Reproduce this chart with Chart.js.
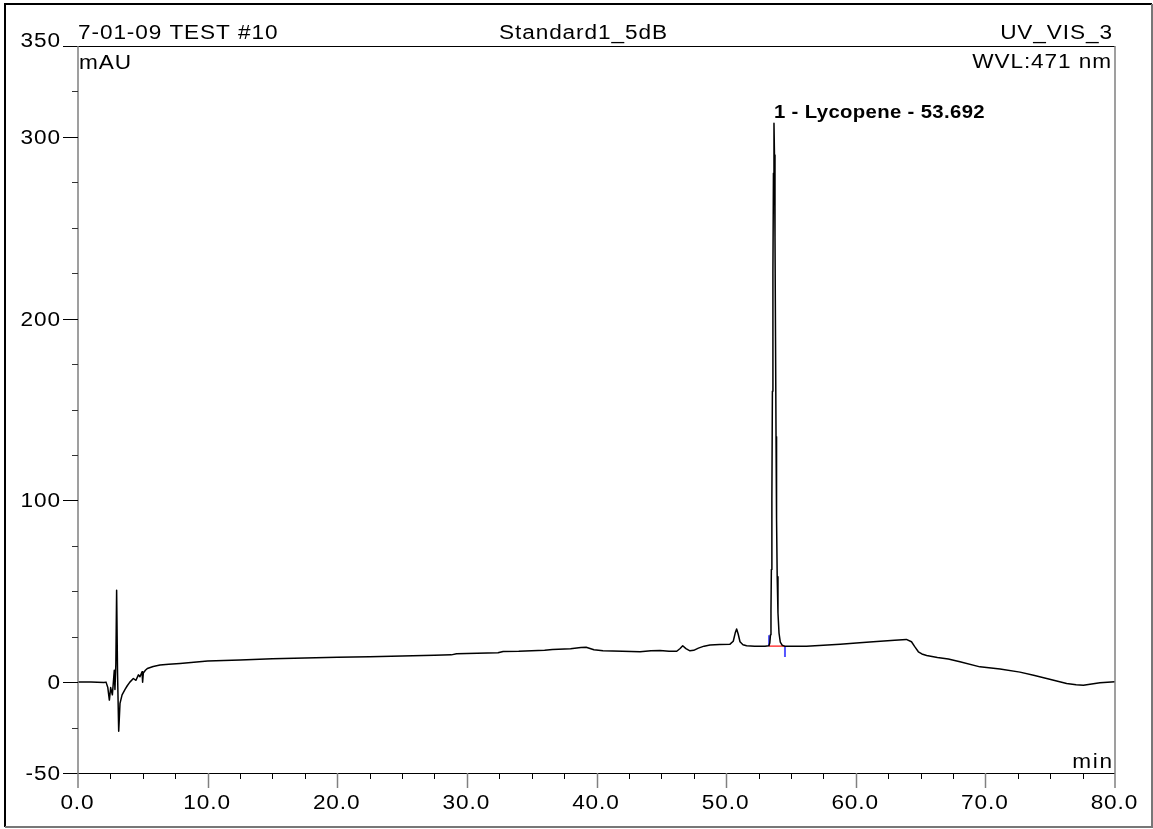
<!DOCTYPE html>
<html lang="en">

<head>
    <meta charset="UTF-8">
    <title>Standard1_5dB</title>
    <script src="https://cdn.jsdelivr.net/npm/chart.js@4.4.9/dist/chart.umd.min.js"></script>
    <style>
        body { margin: 0; background: #fff; }
        canvas { display: block; }
    </style>
</head>

<body>
    <canvas id="chromCanvas" width="1153" height="829"></canvas>
</body>

</html>
<script>
    // retention time (min) and detector signal (mAU)
    var tempos = [
        0, 1.0, 2.0, 2.16, 2.3, 2.42, 2.52, 2.65, 2.75, 2.8, 2.85, 2.92, 2.98, 3.05, 3.14, 3.24, 3.4, 3.63, 3.8, 4.0,
        4.27, 4.47, 4.66, 4.78, 4.94, 4.97, 5.0, 5.04, 5.2, 5.35, 5.8, 6.33, 7.0, 7.87, 10, 12.5, 15, 17.5, 20, 22.5,
        25, 27.5, 28.8, 29.2, 30, 32.4, 32.8, 34, 36, 36.6, 38, 38.8, 39.2, 39.8, 40.5, 42, 43.36, 44.2, 44.9, 45.6,
        46.19, 46.45, 46.65, 46.9, 47.21, 47.5, 47.86, 48.3, 48.76, 49.5, 50.3, 50.55, 50.7, 50.81, 50.93, 51.07, 51.3, 51.58, 52.2, 53.0,
        53.30, 53.37, 53.42, 53.46, 53.49, 53.53, 53.57, 53.61, 53.65, 53.692, 53.73, 53.77, 53.81, 53.85, 53.89, 53.94, 54.00, 54.08, 54.18, 54.32,
        54.5, 56.2, 58.8, 60.3, 61.35, 63.0, 63.9, 64.3, 64.55, 64.83, 65.1, 65.47, 66.3, 67.14, 68.04, 69.58, 71.13, 72.67, 73.8, 74.73,
        76.27, 77.0, 77.56, 78.2, 78.84, 80
    ]
    var sinal = [
        0, 0.1, -0.2, 0, -3, -9.9, -3, -7, 2, 6.5, -4, 10, 50.6, 5, -27, -11.7, -7, -4, -2, 0,
        2, 1, 4, 3, 5.7, 0, 0, 5, 6.5, 7.5, 8.6, 9.4, 9.9, 10.3, 11.6, 12.2, 12.8, 13.3, 13.7, 14.0,
        14.4, 14.8, 15.0, 15.6, 15.8, 16.2, 16.9, 17.0, 17.5, 18.0, 18.3, 19.0, 19.2, 17.8, 17.2, 17.0, 16.7, 17.3, 17.4, 17.0,
        17.0, 18.5, 20, 18.4, 17.2, 17.5, 18.7, 19.8, 20.4, 20.7, 20.9, 22.5, 27, 29.2, 26.5, 22.2, 20.6, 20, 19.8, 19.8,
        20, 21.5, 26, 40, 62, 100, 160, 225, 280, 307.5, 290, 245, 190, 135, 90, 58, 38, 27, 22, 20.3,
        19.8, 19.8, 20.9, 21.6, 22.2, 23.0, 23.5, 22.2, 19.5, 16.7, 15.5, 14.7, 13.6, 12.7, 11.2, 8.4, 7.2, 5.5, 3.6, 2,
        -0.7, -1.5, -1.7, -1.0, -0.4, 0.2
    ]

    // peak integration: start, end and baseline level
    var picoInicio = 53.31
    var picoFim = 54.54
    var picoBase = 19.8
    var picoRotulo = '1 - Lycopene - 53.692'
    var picoTempo = 53.692
    var picoAltura = 307.5

    // axis labels
    var rotulosX = [0, 10, 20, 30, 40, 50, 60, 70, 80]
    var rotulosY = [350, 300, 200, 100, 0, -50]

    var fonte = '"Liberation Sans", Arial, sans-serif'
    var largura = 1.13   // the report font is drawn a bit wide

    function texto(ctx, str, x, y, alinhar, font, espaco) {
        ctx.font = font
        ctx.letterSpacing = espaco + 'px'
        ctx.textAlign = 'left'
        var w = (ctx.measureText(str).width - espaco) * largura
        if (alinhar == 'right') x = x - w
        if (alinhar == 'center') x = x - w / 2
        ctx.save()
        ctx.translate(x, y)
        ctx.scale(largura, 1)
        ctx.fillText(str, 0, 0)
        ctx.restore()
    }

    // frame, ticks and header texts in the old chromatography-report look
    var moldura = {
        id: 'moldura',
        afterDraw: function (chart) {
            var ctx = chart.ctx
            var sx = chart.scales.x
            var sy = chart.scales.y
            var area = chart.chartArea
            ctx.save()
            ctx.fillStyle = '#000'
            ctx.textBaseline = 'alphabetic'

            // outer border
            ctx.lineWidth = 2
            ctx.strokeStyle = '#000'
            ctx.beginPath()
            ctx.moveTo(5, 827); ctx.lineTo(5, 4); ctx.lineTo(1152, 4)
            ctx.stroke()
            ctx.strokeStyle = '#777'
            ctx.beginPath()
            ctx.moveTo(1152, 4); ctx.lineTo(1152, 827); ctx.lineTo(5, 827)
            ctx.stroke()

            ctx.lineWidth = 1
            // top line and x axis line
            ctx.strokeStyle = '#000'
            ctx.beginPath()
            ctx.moveTo(63, Math.round(area.top) + 0.5); ctx.lineTo(area.right, Math.round(area.top) + 0.5)
            ctx.moveTo(63, Math.round(area.bottom) + 0.5); ctx.lineTo(area.right, Math.round(area.bottom) + 0.5)
            ctx.stroke()
            // side lines
            ctx.strokeStyle = '#808080'
            ctx.lineWidth = 1.5
            ctx.beginPath()
            ctx.moveTo(area.left, area.top); ctx.lineTo(area.left, area.bottom + 15)
            ctx.moveTo(area.right, area.top); ctx.lineTo(area.right, area.bottom + 15)
            ctx.stroke()

            // x ticks: minor every 2.5 min, major every 10 min
            for (var t = 2.5; t < 80; t += 2.5) {
                var px = Math.round(sx.getPixelForValue(t)) + 0.5
                ctx.beginPath()
                if (t % 10 == 0) {
                    ctx.strokeStyle = '#808080'
                    ctx.lineWidth = 1.5
                    ctx.moveTo(px, area.bottom); ctx.lineTo(px, area.bottom + 15)
                } else {
                    ctx.strokeStyle = '#000'
                    ctx.lineWidth = 1
                    ctx.moveTo(px, area.bottom); ctx.lineTo(px, area.bottom + 6)
                }
                ctx.stroke()
            }
            // y ticks: minor every 25 mAU, major at the labelled values
            ctx.lineWidth = 1
            for (var v = -25; v < 350; v += 25) {
                var py = Math.round(sy.getPixelForValue(v)) + 0.5
                ctx.beginPath()
                if (rotulosY.indexOf(v) >= 0) {
                    ctx.strokeStyle = '#000'
                    ctx.moveTo(area.left - 15, py)
                } else {
                    ctx.strokeStyle = '#333'
                    ctx.moveTo(area.left - 6, py)
                }
                ctx.lineTo(area.left, py)
                ctx.stroke()
            }

            // tick labels
            var f20 = '20px ' + fonte
            for (var i = 0; i < rotulosX.length; i++) {
                texto(ctx, rotulosX[i].toFixed(1), sx.getPixelForValue(rotulosX[i]) - 1, 809, 'center', f20, 0.8)
            }
            for (var j = 0; j < rotulosY.length; j++) {
                var yy = sy.getPixelForValue(rotulosY[j])
                var base = rotulosY[j] == 350 ? yy + 1 : yy + 7
                texto(ctx, String(rotulosY[j]), 60, base, 'right', f20, 0.8)
            }

            // header and unit texts
            texto(ctx, '7-01-09 TEST #10', 78, 39, 'left', f20, 0.8)
            texto(ctx, 'Standard1_5dB', 583, 39, 'center', f20, 0.8)
            texto(ctx, 'UV_VIS_3', 1112, 39, 'right', f20, 0.8)
            texto(ctx, 'mAU', 79, 69, 'left', f20, 0.8)
            texto(ctx, 'WVL:471 nm', 1111, 68, 'right', f20, 0.8)
            texto(ctx, 'min', 1112, 768, 'right', f20, 1.5)

            // peak label
            texto(ctx, picoRotulo, sx.getPixelForValue(picoTempo), sy.getPixelForValue(picoAltura) - 5, 'left', 'bold 18px ' + fonte, 0.3)
            ctx.restore()
        }
    }

    var pontos = []
    for (var k = 0; k < tempos.length; k++) {
        pontos.push({ x: tempos[k], y: sinal[k] })
    }

    const config = {
        type: 'line',
        data: {
            datasets: [
                {
                    label: 'UV_VIS_3',
                    data: pontos,
                    borderColor: '#000',
                    borderWidth: 1.5,
                    borderJoinStyle: 'round',
                    pointRadius: 0,
                    tension: 0,
                    order: 1
                },
                {
                    label: 'baseline',
                    data: [{ x: picoInicio, y: picoBase }, { x: picoFim, y: picoBase }],
                    borderColor: '#ff3b3b',
                    borderWidth: 1.5,
                    pointRadius: 0,
                    order: 2
                },
                {
                    label: 'start',
                    data: [{ x: picoInicio, y: picoBase }, { x: picoInicio, y: picoBase + 6 }],
                    borderColor: '#5555ff',
                    borderWidth: 2,
                    pointRadius: 0,
                    order: 2
                },
                {
                    label: 'end',
                    data: [{ x: picoFim, y: picoBase }, { x: picoFim, y: picoBase - 6 }],
                    borderColor: '#5555ff',
                    borderWidth: 2,
                    pointRadius: 0,
                    order: 2
                }
            ]
        },
        options: {
            responsive: false,
            animation: false,
            layout: {
                padding: { left: 78, right: 38, top: 46, bottom: 56 }
            },
            scales: {
                x: { type: 'linear', min: 0, max: 80, display: false },
                y: { type: 'linear', min: -50, max: 350, display: false }
            },
            plugins: {
                legend: { display: false },
                tooltip: { enabled: false }
            }
        },
        plugins: [moldura]
    };

    let myChart = new Chart(
        document.getElementById('chromCanvas'),
        config
    );
</script>
